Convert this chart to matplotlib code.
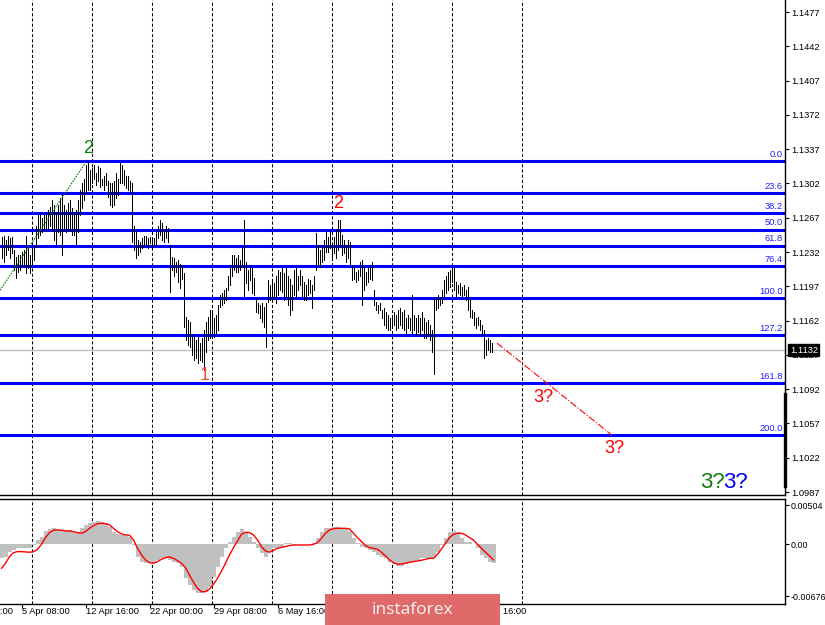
import numpy as np
import matplotlib
matplotlib.use("Agg")
import matplotlib.pyplot as plt
import matplotlib.transforms as mtransforms
from matplotlib.patches import Rectangle

plt.rcParams["font.family"] = ["Liberation Sans", "DejaVu Sans"]

# ── Data (H4 bars, prices in pips x 1e-4) ─────────────────────────────────────
highs_pips = [
    11247, 11248, 11244, 11248, 11246, 11247, 11234, 11227, 11229, 11229,
    11232, 11234, 11248, 11237, 11229, 11234, 11239, 11259, 11270, 11273,
    11267, 11270, 11272, 11275, 11278, 11285, 11280, 11273, 11280, 11287,
    11290, 11280, 11275, 11282, 11285, 11277, 11272, 11275, 11285, 11295,
    11302, 11307, 11321, 11324, 11316, 11318, 11321, 11313, 11320, 11318,
    11307, 11310, 11313, 11305, 11302, 11303, 11305, 11313, 11307, 11324,
    11321, 11316, 11310, 11310, 11305, 11302, 11259, 11254, 11244, 11242,
    11246, 11248, 11248, 11246, 11247, 11246, 11246, 11252, 11259, 11265,
    11262, 11254, 11259, 11257, 11239, 11227, 11226, 11222, 11224, 11220,
    11219, 11211, 11166, 11163, 11161, 11147, 11145, 11142, 11145, 11139,
    11144, 11152, 11161, 11166, 11173, 11170, 11165, 11168, 11178, 11188,
    11190, 11193, 11195, 11208, 11219, 11229, 11229, 11226, 11229, 11224,
    11237, 11265, 11222, 11214, 11219, 11216, 11206, 11185, 11180, 11178,
    11180, 11176, 11180, 11203, 11198, 11205, 11200, 11208, 11214, 11212,
    11216, 11211, 11216, 11208, 11205, 11198, 11214, 11216, 11208, 11214,
    11208, 11201, 11198, 11205, 11203, 11198, 11208, 11251, 11239, 11234,
    11239, 11244, 11252, 11247, 11254, 11241, 11247, 11256, 11265, 11265,
    11249, 11244, 11239, 11244, 11242, 11219, 11216, 11212, 11214, 11222,
    11224, 11216, 11212, 11216, 11219, 11222, 11193, 11181, 11178, 11180,
    11173, 11175, 11171, 11168, 11165, 11168, 11171, 11168, 11173, 11175,
    11171, 11173, 11165, 11168, 11165, 11188, 11168, 11165, 11168, 11165,
    11171, 11165, 11161, 11163, 11158, 11152, 11186, 11186, 11188, 11185,
    11193, 11203, 11208, 11212, 11214, 11217, 11216, 11201, 11198, 11200,
    11196, 11198, 11193, 11196, 11183, 11173, 11171, 11165, 11166, 11163,
    11158, 11152, 11142, 11144, 11142, 11139,
]
lows_pips = [
    11226, 11222, 11229, 11234, 11226, 11231, 11214, 11206, 11212, 11214,
    11218, 11219, 11211, 11216, 11211, 11219, 11224, 11237, 11246, 11249,
    11252, 11256, 11254, 11256, 11259, 11254, 11244, 11239, 11252, 11249,
    11229, 11254, 11252, 11256, 11254, 11249, 11249, 11239, 11252, 11270,
    11277, 11285, 11292, 11295, 11295, 11302, 11307, 11300, 11305, 11298,
    11300, 11295, 11300, 11288, 11280, 11278, 11280, 11287, 11290, 11302,
    11302, 11300, 11297, 11295, 11293, 11242, 11234, 11226, 11229, 11232,
    11236, 11239, 11239, 11236, 11241, 11236, 11239, 11239, 11246, 11249,
    11244, 11242, 11246, 11242, 11191, 11214, 11208, 11212, 11201, 11195,
    11205, 11155, 11142, 11137, 11135, 11127, 11122, 11124, 11119, 11122,
    11120, 11112, 11130, 11142, 11144, 11149, 11145, 11149, 11152, 11176,
    11178, 11180, 11183, 11193, 11198, 11208, 11214, 11212, 11212, 11214,
    11217, 11186, 11200, 11193, 11203, 11190, 11188, 11171, 11170, 11165,
    11161, 11155, 11135, 11181, 11183, 11181, 11186, 11180, 11188, 11193,
    11191, 11183, 11186, 11178, 11168, 11173, 11188, 11185, 11193, 11198,
    11186, 11183, 11183, 11188, 11190, 11175, 11193, 11214, 11219, 11217,
    11222, 11224, 11232, 11232, 11236, 11226, 11231, 11226, 11234, 11239,
    11229, 11231, 11222, 11226, 11219, 11203, 11205, 11201, 11203, 11208,
    11178, 11193, 11198, 11201, 11205, 11203, 11178, 11173, 11170, 11173,
    11165, 11158, 11154, 11152, 11152, 11154, 11158, 11152, 11154, 11158,
    11154, 11152, 11149, 11154, 11152, 11149, 11152, 11147, 11150, 11147,
    11152, 11144, 11144, 11147, 11142, 11130, 11108, 11173, 11175, 11178,
    11180, 11186, 11190, 11193, 11196, 11201, 11193, 11186, 11190, 11188,
    11186, 11188, 11183, 11173, 11166, 11165, 11158, 11154, 11158, 11152,
    11147, 11124, 11127, 11132, 11130, 11130,
]

# MACD histogram / signal (x 1e-5), one value every 2 bars
macd_hist_e5 = [
    -182, -160, -95, -73, -52, -43, -43, -52, -9, 56,
    99, 173, 199, 207, 194, 186, 182, 186, 173, 156,
    216, 251, 272, 285, 303, 294, 272, 229, 164, 130,
    121, 112, 99, -9, -160, -225, -246, -246, -225, -203,
    -182, -182, -203, -225, -246, -290, -441, -527, -592, -635,
    -635, -614, -549, -419, -290, -160, -52, 35, 99, 164,
    199, 164, 99, 35, -52, -117, -160, -95, -52, -43,
    -30, 22, 13, -9, 0, 0, 0, 0, 13, 78,
    164, 207, 216, 229, 229, 207, 207, 164, 78, 13,
    -30, -52, -73, -95, -138, -160, -182, -225, -259, -277,
    -277, -259, -246, -225, -203, -182, -173, -182, -173, -95,
    -9, 78, 156, 173, 156, 78, 35, 26, 0, -52,
    -138, -182, -225, -246,
]
macd_signal_e5 = [
    -311, -246, -160, -108, -95, -95, -99, -104, -95, -65,
    0, 86, 151, 182, 186, 182, 173, 173, 164, 151,
    143, 164, 207, 242, 268, 272, 268, 251, 207, 164,
    134, 121, 117, 56, -52, -138, -203, -238, -246, -225,
    -194, -173, -164, -182, -212, -246, -303, -398, -493, -571,
    -614, -614, -579, -519, -441, -346, -246, -138, -43, 43,
    130, 156, 151, 121, 56, -30, -86, -104, -78, -52,
    -39, -30, -17, -9, -9, -9, -9, -9, 0, 22,
    78, 143, 186, 203, 207, 207, 207, 199, 143, 86,
    35, -17, -43, -52, -65, -104, -151, -203, -238, -259,
    -255, -246, -233, -225, -216, -207, -194, -182, -182, -130,
    -61, 13, 86, 130, 143, 143, 121, 86, 56, 0,
    -52, -104, -151, -203,
]

highs = np.array(highs_pips) / 1e4
lows = np.array(lows_pips) / 1e4
bars = np.arange(len(highs))
macd_hist = np.array(macd_hist_e5) / 1e5
macd_signal = np.array(macd_signal_e5) / 1e5
macd_x = np.arange(len(macd_hist)) * 2

last_price = 1.1132

# Fibonacci grid (wave 2 top -> wave 1 bottom)
fib_top, fib_bottom = 1.1325, 1.1185
fib_ratios = [0.0, 0.236, 0.382, 0.5, 0.618, 0.764, 1.0, 1.272, 1.618, 2.0]
fib_labels = ["0.0", "23.6", "38.2", "50.0", "61.8", "76.4", "100.0", "127.2", "161.8", "200.0"]

price_ticks = [1.1477, 1.1442, 1.1407, 1.1372, 1.1337, 1.1302, 1.1267, 1.1232,
               1.1197, 1.1162, 1.1127, 1.1092, 1.1057, 1.1022, 1.0987]
macd_ticks = [0.00504, 0.0, -0.00676]
macd_tick_labels = ["0.00504", "0.00", "-0.00676"]

# time labels (the ones under the banner are hidden in the original)
date_pos = [-22, 10, 42, 74, 106, 138, 234]
date_labels = ["29 Mar 00:00", "5 Apr 08:00", "12 Apr 16:00", "22 Apr 00:00",
               "29 Apr 08:00", "6 May 16:00", "29 May 16:00"]
grid_pos = [15, 45, 75, 105, 135, 165, 195, 225, 260]

# wave marks: (bar, price, text, colour, size)
wave_marks = [
    (43.25, 1.1338, "2", "#0A800A", 13),
    (168.25, 1.1282, "2", "#FF0000", 13),
    (101.75, 1.1106, "1", "#F0502A", 13),
    (270.75, 1.1084, "3?", "#FF0000", 13),
    (306.25, 1.1031, "3?", "#FF0000", 13),
    (355.25, 1.0997, "3?", "#0A800A", 16),
    (366.75, 1.0997, "3?", "#0000FF", 16),
]
wave2_line_x, wave2_line_y = [-0.75, 42.25], [1.1193, 1.1324]
target_line_x, target_line_y = [247.75, 305.25], [1.1139, 1.1045]

# ── Figure ────────────────────────────────────────────────────────────────────
W, H = 825, 625
fig = plt.figure(figsize=(W / 100, H / 100), dpi=100)
fig.patch.set_facecolor("white")

ax = fig.add_axes([0, (H - 495) / H, 785 / W, 495 / H])
ax_m = fig.add_axes([0, (H - 604) / H, 785 / W, 105 / H])

xlim = (-0.75, 391.75)
tick_fs = 6.7

# price panel
ax.vlines(bars, lows, highs, color="black", linewidth=0.72, antialiased=False, zorder=3)
for r, lab in zip(fib_ratios, fib_labels):
    lvl = fib_top - r * (fib_top - fib_bottom)
    ax.axhline(lvl, color="#0000FF", linewidth=2.2, zorder=2)
    ax.annotate(lab, xy=(1, lvl), xycoords=("axes fraction", "data"),
                xytext=(-1.5, 1.6), textcoords="offset points",
                ha="right", va="bottom", fontsize=tick_fs, color="#2020FF")
ax.axhline(last_price, color="#C0C0C0", linewidth=1, zorder=1)

for g in grid_pos:
    ax.axvline(g, color="black", linewidth=0.75, dashes=(3, 2), zorder=1)
    ax_m.axvline(g, color="black", linewidth=0.75, dashes=(3, 2), zorder=1)

ax.plot(wave2_line_x, wave2_line_y, color="#008000", linewidth=0.8,
        dashes=(1.5, 1), zorder=4)
ax.plot(target_line_x, target_line_y, color="#FF0000", linewidth=0.8,
        linestyle="-.", zorder=4)

for bx, by, txt, col, fs in wave_marks:
    ax.text(bx, by, txt, color=col, fontsize=fs, ha="center", va="center", zorder=5)

ax.set_xlim(*xlim)
ax.set_ylim(1.0984, 1.14893)
ax.set_xticks([])
ax.yaxis.tick_right()
ax.set_yticks(price_ticks)
ax.set_yticklabels([f"{p:.4f}" for p in price_ticks])
ax.tick_params(axis="y", length=3, width=0.8, pad=1.2, labelsize=tick_fs)
for s in ("left", "top"):
    ax.spines[s].set_visible(False)
for s in ("right", "bottom"):
    ax.spines[s].set_linewidth(1.0)

blend = mtransforms.blended_transform_factory(ax.transAxes, ax.transData)
ax.annotate(f"{last_price:.4f}", xy=(1, last_price), xycoords=("axes fraction", "data"),
            xytext=(3.5, 0), textcoords="offset points", ha="left", va="center",
            fontsize=tick_fs, color="white", zorder=10, annotation_clip=False,
            bbox=dict(boxstyle="square,pad=0.15", fc="black", ec="black"))
ax.plot([1, 1], [1.1087, 1.0993], transform=blend, color="black",
        linewidth=2.4, clip_on=False, zorder=6)

# MACD panel
ax_m.bar(macd_x, macd_hist, width=2.0, color="#C0C0C0", linewidth=0, zorder=2)
ax_m.plot(macd_x, macd_signal, color="#FF0000", linewidth=1.0, zorder=3)
ax_m.set_xlim(*xlim)
ax_m.set_ylim(-0.00774, 0.00587)
ax_m.yaxis.tick_right()
ax_m.set_yticks(macd_ticks)
ax_m.set_yticklabels(macd_tick_labels)
ax_m.tick_params(axis="y", length=3, width=0.8, pad=1.0, labelsize=6.4)
ax_m.set_xticks([p for p in date_pos if xlim[0] <= p <= xlim[1]])
ax_m.set_xticklabels([])
ax_m.tick_params(axis="x", length=3, width=0.8)
ax_m.spines["left"].set_visible(False)
for s in ("right", "bottom", "top"):
    ax_m.spines[s].set_linewidth(1.0)

blend_m = mtransforms.blended_transform_factory(ax_m.transData, ax_m.transAxes)
for p, lab in zip(date_pos, date_labels):
    ax_m.annotate(lab, xy=(p, 0), xycoords=blend_m, xytext=(0.5, -2),
                  textcoords="offset points", ha="left", va="top",
                  fontsize=tick_fs, annotation_clip=False)

# watermark banner
fig.add_artist(Rectangle((325 / W, 0), 175 / W, 31 / H, transform=fig.transFigure,
                         facecolor="#E06A6A", edgecolor="none", zorder=20))
fig.text(412 / W, 15 / H, "instaforex", color="#F6F6F6", fontsize=12.5,
         family=["Open Sans", "DejaVu Sans"], ha="center", va="center", zorder=21)

fig.savefig("out.png", dpi=100)
